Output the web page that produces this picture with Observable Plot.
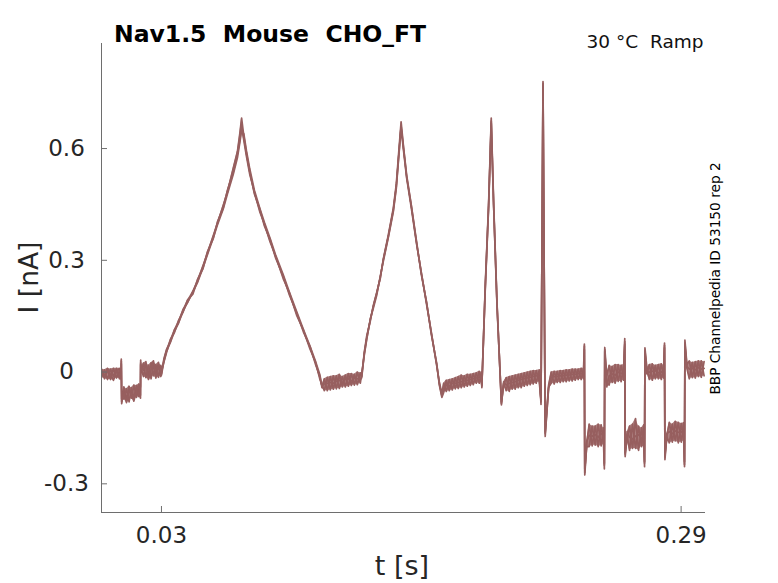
<!DOCTYPE html>
<html>
<head>
<meta charset="utf-8">
<script src="https://cdn.jsdelivr.net/npm/d3@7"></script>
<script src="https://cdn.jsdelivr.net/npm/@observablehq/plot@0.6"></script>
<style>
  html, body { margin: 0; padding: 0; background: #fff; }
  #chart { width: 778px; height: 583px; }
</style>
</head>
<body>
<div id="chart"></div>
<script>
// ---- data ----
const xTicks = [0.03, 0.29];
const yTicks = [-0.3, 0, 0.3, 0.6];
const xDomain = [0, 0.3022];
const yDomain = [-0.377, 0.882];

const time = [
  0, 0.0015, 0.003, 0.0045, 0.006, 0.0075, 0.009, 0.0098,
  0.0099, 0.0101,
  0.0112, 0.0125, 0.0138, 0.015, 0.0162, 0.0175, 0.0187, 0.0195,
  0.0196, 0.0198,
  0.021, 0.0222, 0.0235, 0.0248, 0.026, 0.0272, 0.0285, 0.0297,
  0.03, 0.0312, 0.0325, 0.0345, 0.0365, 0.0385, 0.0408, 0.043, 0.0458, 0.048, 0.0508, 0.053, 0.0559, 0.058, 0.0609, 0.063, 0.0659, 0.068, 0.0692, 0.0701,
  0.0712, 0.0725, 0.0742, 0.0765, 0.0792, 0.0815, 0.0843, 0.087, 0.0909, 0.094, 0.0976, 0.101, 0.1043, 0.107, 0.1093, 0.1103,
  0.1115, 0.113, 0.1145, 0.116, 0.1175, 0.119, 0.1205, 0.122, 0.1235, 0.125, 0.1265, 0.128, 0.1295,
  0.1302, 0.1315, 0.1327, 0.1345, 0.136, 0.1377, 0.1395, 0.141, 0.1435, 0.146, 0.1475, 0.1485, 0.1499, 0.1512, 0.1527, 0.155, 0.1577, 0.16, 0.1627, 0.165, 0.1677, 0.169, 0.1703,
  0.1712, 0.1725, 0.174, 0.1755, 0.177, 0.1785, 0.18, 0.1815, 0.183, 0.1845, 0.186, 0.1875, 0.189, 0.19,
  0.1903, 0.192, 0.1937, 0.195, 0.1962, 0.1979, 0.2001, 0.2012,
  0.2025, 0.204, 0.2055, 0.207, 0.2085, 0.21, 0.2115, 0.213, 0.2145, 0.216, 0.2175, 0.219,
  0.2199, 0.2209, 0.222, 0.2237,
  0.225, 0.2265, 0.228, 0.2295, 0.231, 0.2325, 0.234, 0.2355, 0.237, 0.2385, 0.24, 0.2412,
  0.2416, 0.2418, 0.2428, 0.244, 0.2455, 0.247, 0.2485, 0.25, 0.2512,
  0.2516, 0.2518, 0.2528, 0.254, 0.2555, 0.257, 0.2585, 0.26, 0.2613,
  0.2618, 0.262, 0.263, 0.2642, 0.2657, 0.2672, 0.2687, 0.2702, 0.2713,
  0.2717, 0.2719, 0.2729, 0.2741, 0.2756, 0.2771, 0.2786, 0.2801, 0.2813,
  0.2817, 0.2819, 0.2829, 0.2841, 0.2856, 0.2871, 0.2886, 0.2901, 0.2913,
  0.2917, 0.2919, 0.2929, 0.2941, 0.2956, 0.2971, 0.2986, 0.3001, 0.3015
];

const sweep1 = [
  0.008, -0.018, 0.006, -0.02, 0.01, -0.016, 0.004, -0.012,
  0.035, -0.085,
  -0.04, -0.075, -0.038, -0.07, -0.035, -0.068, -0.04, -0.062,
  0.032, 0.01,
  -0.012, 0.022, -0.008, 0.025, -0.01, 0.02, -0.014, 0.018,
  -0.005, 0.035, 0.06, 0.082, 0.114, 0.132, 0.168, 0.186, 0.218, 0.242, 0.286, 0.318, 0.366, 0.398, 0.448, 0.482, 0.547, 0.592, 0.64, 0.682,
  0.634, 0.588, 0.538, 0.478, 0.438, 0.392, 0.357, 0.308, 0.258, 0.207, 0.16, 0.108, 0.069, 0.022, -0.012, -0.042,
  -0.018, -0.05, -0.012, -0.046, -0.01, -0.044, -0.012, -0.04, -0.004, -0.036, -0.006, -0.034, -0.002,
  -0.012, 0.054, 0.097, 0.137, 0.179, 0.214, 0.252, 0.304, 0.368, 0.44, 0.505, 0.575, 0.672, 0.6, 0.528, 0.448, 0.348, 0.262, 0.186, 0.102, 0.024, -0.034, -0.068,
  -0.055, -0.022, -0.05, -0.018, -0.045, -0.012, -0.042, -0.01, -0.038, -0.006, -0.034, -0.002, -0.03, 0.0,
  -0.042, 0.232, 0.455, 0.682, 0.455, 0.184, -0.088, -0.03,
  -0.05, -0.012, -0.046, -0.008, -0.042, -0.004, -0.038, 0.0, -0.034, 0.004, -0.03, 0.006,
  -0.087, 0.78, -0.173, -0.04,
  -0.03, 0.002, -0.028, 0.004, -0.026, 0.006, -0.024, 0.008, -0.022, 0.008, -0.02, 0.01,
  0.075, -0.276, -0.19, -0.14, -0.198, -0.145, -0.2, -0.142, -0.195,
  -0.26, 0.066, -0.01, 0.018, -0.028, 0.02, -0.025, 0.018, -0.022,
  0.09, -0.227, -0.17, -0.21, -0.14, -0.205, -0.145, -0.2, -0.142,
  -0.254, 0.065, 0.01, -0.02, 0.022, -0.018, 0.02, -0.02, 0.018,
  0.078, -0.235, -0.17, -0.135, -0.188, -0.132, -0.19, -0.138, -0.185,
  -0.254, 0.086, 0.02, 0.03, -0.015, 0.028, -0.012, 0.03, -0.01
];

const sweep2 = [
  -0.014, 0.006, -0.02, 0.008, -0.012, 0.01, -0.018, 0.006,
  0.022, -0.072,
  -0.072, -0.045, -0.08, -0.042, -0.07, -0.036, -0.066, -0.038,
  0.025, 0.002,
  0.024, -0.015, 0.018, -0.018, 0.022, -0.01, 0.026, -0.012,
  0.003, 0.026, 0.052, 0.088, 0.106, 0.138, 0.161, 0.193, 0.21, 0.248, 0.278, 0.323, 0.358, 0.403, 0.44, 0.488, 0.536, 0.585, 0.622, 0.662,
  0.622, 0.58, 0.53, 0.483, 0.43, 0.398, 0.35, 0.313, 0.251, 0.213, 0.153, 0.113, 0.062, 0.028, -0.02, -0.035,
  -0.05, -0.014, -0.048, -0.01, -0.045, -0.006, -0.04, -0.008, -0.038, -0.004, -0.035, 0.0, -0.03,
  -0.004, 0.046, 0.088, 0.143, 0.171, 0.206, 0.258, 0.297, 0.361, 0.43, 0.494, 0.562, 0.655, 0.59, 0.52, 0.441, 0.342, 0.268, 0.18, 0.108, 0.018, -0.026, -0.058,
  -0.03, -0.052, -0.02, -0.048, -0.015, -0.044, -0.008, -0.04, -0.006, -0.036, -0.004, -0.03, 0.002, -0.026,
  -0.035, 0.222, 0.445, 0.668, 0.445, 0.176, -0.08, -0.035,
  -0.015, -0.052, -0.01, -0.046, -0.006, -0.042, -0.002, -0.036, 0.002, -0.032, 0.004, -0.026,
  -0.075, 0.775, -0.16, -0.035,
  0.0, -0.032, 0.002, -0.028, 0.004, -0.026, 0.006, -0.024, 0.008, -0.02, 0.01, -0.018,
  0.06, -0.26, -0.2, -0.2, -0.145, -0.196, -0.14, -0.198, -0.15,
  -0.245, 0.055, -0.03, -0.035, 0.015, -0.03, 0.02, -0.026, 0.02,
  0.075, -0.215, -0.18, -0.145, -0.205, -0.125, -0.21, -0.15, -0.2,
  -0.24, 0.05, -0.005, 0.02, -0.022, 0.018, -0.018, 0.022, -0.016,
  0.065, -0.22, -0.175, -0.19, -0.14, -0.185, -0.135, -0.188, -0.136,
  -0.24, 0.07, 0.01, -0.018, 0.026, -0.016, 0.03, -0.014, 0.028
];

const sweep3 = [
  -0.004, -0.008, 0.01, -0.006, -0.022, 0.0, 0.01, -0.02,
  0.03, -0.08,
  -0.058, -0.082, -0.05, -0.06, -0.078, -0.05, -0.032, -0.07,
  0.02, 0.015,
  0.005, 0.028, -0.02, 0.008, 0.03, -0.016, 0.012, 0.004,
  -0.008, 0.028, 0.055, 0.08, 0.109, 0.131, 0.163, 0.187, 0.215, 0.24, 0.28, 0.315, 0.36, 0.395, 0.438, 0.478, 0.53, 0.575, 0.615, 0.648,
  0.64, 0.595, 0.545, 0.488, 0.44, 0.402, 0.36, 0.316, 0.262, 0.215, 0.163, 0.115, 0.07, 0.03, -0.008, -0.038,
  -0.032, -0.03, -0.028, -0.03, -0.025, -0.022, -0.028, -0.02, -0.018, -0.024, -0.016, -0.018, -0.02,
  -0.015, 0.05, 0.09, 0.141, 0.176, 0.211, 0.254, 0.301, 0.364, 0.434, 0.498, 0.566, 0.66, 0.597, 0.523, 0.447, 0.344, 0.266, 0.184, 0.105, 0.02, -0.03, -0.064,
  -0.045, -0.035, -0.038, -0.03, -0.03, -0.028, -0.026, -0.024, -0.022, -0.02, -0.018, -0.016, -0.014, -0.012,
  -0.038, 0.226, 0.448, 0.674, 0.448, 0.18, -0.084, -0.026,
  -0.035, -0.03, -0.028, -0.026, -0.022, -0.02, -0.018, -0.016, -0.014, -0.012, -0.01, -0.01,
  -0.08, 0.77, -0.165, -0.045,
  -0.014, -0.012, -0.012, -0.01, -0.01, -0.008, -0.008, -0.006, -0.006, -0.004, -0.004, -0.004,
  0.07, -0.27, -0.185, -0.17, -0.172, -0.168, -0.175, -0.165, -0.17,
  -0.25, 0.06, -0.04, -0.01, -0.005, -0.008, 0.0, -0.004, -0.002,
  0.082, -0.22, -0.16, -0.175, -0.18, -0.172, -0.168, -0.178, -0.172,
  -0.245, 0.058, 0.0, 0.0, 0.002, 0.004, -0.002, 0.0, 0.004,
  0.072, -0.228, -0.165, -0.16, -0.165, -0.158, -0.162, -0.16, -0.164,
  -0.248, 0.078, 0.015, 0.008, 0.01, 0.006, 0.012, 0.008, 0.01
];

const sweeps = [sweep1, sweep2, sweep3];
const traceColor = "#975f5f";
const axisColor = "#6e6e6e";
const textColor = "#262626";

console.log(time.length, sweep1.length, sweep2.length, sweep3.length);

// spread of the overlapping sweeps at each sample (shaded behind the lines)
const idx = time.map((t, i) => i);
const lo = idx.map(i => d3.min(sweeps, s => s[i]));
const hi = idx.map(i => d3.max(sweeps, s => s[i]));

const svg = Plot.plot({
  width: 778,
  height: 583,
  marginLeft: 101,
  marginRight: 73,
  marginTop: 43,
  marginBottom: 71,
  x: {domain: xDomain},
  y: {domain: yDomain},
  style: {fontFamily: "DejaVu Sans", background: "#fff", color: textColor, overflow: "visible"},
  marks: [
    Plot.areaY(idx, {x: time, y1: lo, y2: hi, fill: traceColor, fillOpacity: 0.8, clip: true}),
    ...sweeps.map(s => Plot.lineY(s, {x: time, stroke: traceColor, strokeWidth: 1.7, clip: true})),
    Plot.ruleX([xDomain[0]], {stroke: axisColor}),
    Plot.ruleY([yDomain[0]], {stroke: axisColor}),
    Plot.axisX(xTicks, {tickSize: -6, tickPadding: 20, fontSize: 23, stroke: axisColor, fill: textColor, label: null, tickFormat: d => String(d)}),
    Plot.axisY(yTicks, {tickSize: -6, tickPadding: 41, fontSize: 23, textAnchor: "middle", stroke: axisColor, fill: textColor, label: null, tickFormat: d => String(d)})
  ]
});

const s = d3.select(svg);
s.append("text")
  .attr("x", 114).attr("y", 42)
  .attr("text-anchor", "start")
  .attr("font-family", "DejaVu Sans").attr("font-weight", "bold").attr("font-size", 23.5)
  .attr("fill", "#000").style("white-space", "pre")
  .text("Nav1.5  Mouse  CHO_FT");
s.append("text")
  .attr("x", 703.5).attr("y", 48)
  .attr("text-anchor", "end")
  .attr("font-family", "DejaVu Sans").attr("font-size", 18.5)
  .attr("fill", "#111").style("white-space", "pre")
  .text("30 °C  Ramp");
s.append("text")
  .attr("transform", "translate(720,278.5) rotate(-90)")
  .attr("text-anchor", "middle")
  .attr("font-family", "DejaVu Sans").attr("font-size", 13.7)
  .attr("fill", "#000")
  .text("BBP Channelpedia ID 53150 rep 2");
s.append("text")
  .attr("transform", "translate(38,277.5) rotate(-90)")
  .attr("text-anchor", "middle")
  .attr("font-family", "DejaVu Sans").attr("font-size", 26.5)
  .attr("fill", textColor)
  .text("I [nA]");
s.append("text")
  .attr("x", 402).attr("y", 575)
  .attr("text-anchor", "middle")
  .attr("font-family", "DejaVu Sans").attr("font-size", 27)
  .attr("fill", textColor)
  .text("t [s]");

document.getElementById("chart").appendChild(svg);
</script>
</body>
</html>
